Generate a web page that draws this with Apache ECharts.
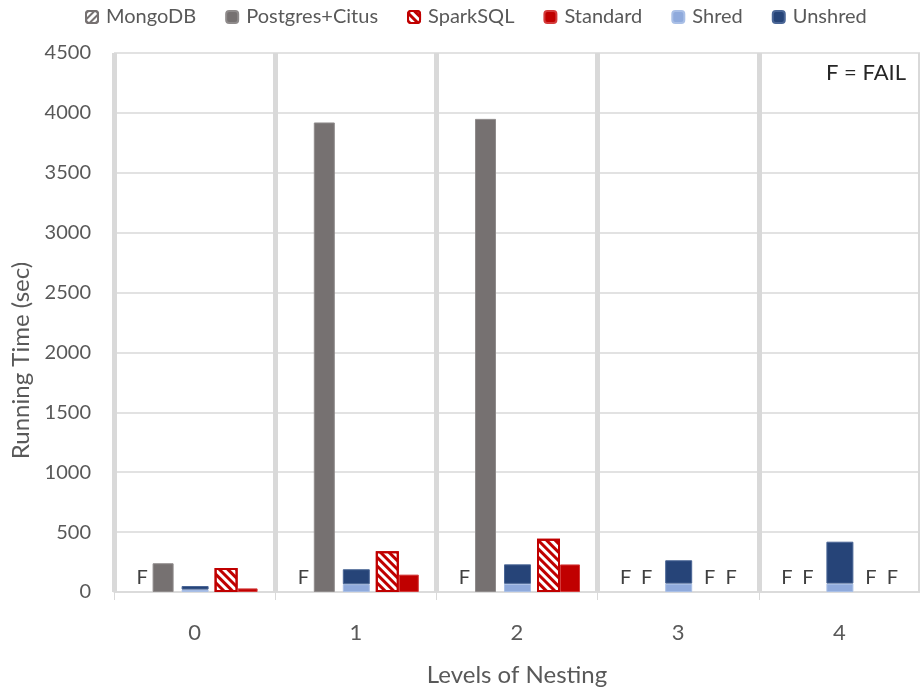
<!DOCTYPE html>
<html>
<head>
<meta charset="utf-8">
<script src="https://cdn.jsdelivr.net/npm/echarts@6/dist/echarts.min.js"></script>
<style>html,body{margin:0;padding:0;background:#fff}#c{width:920px;height:695px}</style>
</head>
<body>
<div id="c"></div>
<script>
// ---- data (null = FAIL) ----
var categories = ['0', '1', '2', '3', '4'];
var mongodb  = [null, null, null, null, null];
var postgres = [240, 3920, 3950, null, null];
var sparksql = [200, 340, 445, null, null];
var standard = [30, 145, 230, null, null];
var shred    = [20, 65, 68, 70, 70];
var unshred  = [30, 125, 163, 195, 350];
var yTicks = {min: 0, max: 4500, interval: 500};

var FONT = 'Lato, "Liberation Sans", sans-serif';
var TXT = '#595959';

function withFail(arr) {
  return arr.map(function (v) {
    if (v === null) {
      return {value: 0,
        itemStyle: {color: 'transparent', borderWidth: 0, borderColor: 'transparent'},
        label: {show: true}};
    }
    return {value: v};
  });
}
var failLabel = {
  show: false, position: 'top', distance: 4,
  formatter: 'F', color: '#404040', fontSize: 20, fontFamily: FONT
};

var chart = echarts.init(document.getElementById('c'), null, {renderer: 'canvas'});
var option = {
  animation: false,
  backgroundColor: '#fff',
  textStyle: {fontFamily: FONT},
  legend: {
    data: ['MongoDB', 'Postgres+Citus', 'SparkSQL', 'Standard', 'Shred', 'Unshred'],
    top: 2, left: 80,
    itemWidth: 12, itemHeight: 12, itemGap: 29,
    textStyle: {color: TXT, fontSize: 20, fontFamily: FONT, padding: [0, 0, 0, 3]}
  },
  graphic: [{
    type: 'text', right: 14, top: 62,
    style: {text: 'F = FAIL', fill: '#262626', font: '22px ' + FONT}
  }],
  grid: {left: 114, right: -7, top: 53, bottom: 103, containLabel: false},
  xAxis: {
    type: 'category', data: categories,
    axisLine: {lineStyle: {color: '#d9d9d9', width: 1.5}},
    axisTick: {show: true, length: 8, lineStyle: {color: '#d9d9d9', width: 1}},
    splitLine: {show: true, lineStyle: {color: '#d9d9d9', width: 5}},
    axisLabel: {color: TXT, fontSize: 22, margin: 30, fontFamily: FONT},
    name: 'Levels of Nesting', nameLocation: 'middle', nameGap: 71,
    nameTextStyle: {color: TXT, fontSize: 24, fontFamily: FONT}
  },
  yAxis: {
    type: 'value', min: yTicks.min, max: yTicks.max, interval: yTicks.interval,
    axisLine: {show: false}, axisTick: {show: false},
    splitLine: {lineStyle: {color: '#d9d9d9', width: 1.5}},
    axisLabel: {color: TXT, fontSize: 20, margin: 23, fontFamily: FONT,
      formatter: function (v) { return String(v); }},
    name: 'Running Time (sec)', nameLocation: 'middle', nameGap: 80,
    nameTextStyle: {color: TXT, fontSize: 24, fontFamily: FONT, padding: [0, 76, 0, 0]}
  },
  series: [
    {name: 'MongoDB', type: 'bar', barWidth: 21, barGap: '0%',
     itemStyle: {color: '#fff', borderColor: '#767171', borderWidth: 1,
       decal: {color: '#767171', symbol: 'rect', dashArrayX: [1, 0], dashArrayY: [2, 3], rotation: -Math.PI / 4}},
     label: failLabel, data: withFail(mongodb)},
    {name: 'Postgres+Citus', type: 'bar', barWidth: 21, barGap: '0%',
     itemStyle: {color: '#767171', borderColor: '#8f8b8b', borderWidth: 1},
     label: failLabel, data: withFail(postgres)},
    {name: 'sp1', type: 'bar', barWidth: 8, barGap: '0%', data: [], silent: true},
    {name: 'Shred', type: 'bar', stack: 'su', barWidth: 27, barGap: '0%',
     itemStyle: {color: '#8FAADC', borderColor: '#a9bfe6', borderWidth: 1},
     data: shred},
    {name: 'Unshred', type: 'bar', stack: 'su', barWidth: 27, barGap: '0%',
     itemStyle: {color: '#264478', borderColor: '#4a6696', borderWidth: 1},
     data: unshred},
    {name: 'sp2', type: 'bar', barWidth: 6, barGap: '0%', data: [], silent: true},
    {name: 'SparkSQL', type: 'bar', barWidth: 23, barGap: '0%',
     itemStyle: {color: '#fff', borderColor: '#C00000', borderWidth: 2,
       decal: {color: '#C00000', symbol: 'rect', dashArrayX: [1, 0], dashArrayY: [3, 3], rotation: Math.PI / 4}},
     label: failLabel, data: withFail(sparksql)},
    {name: 'Standard', type: 'bar', barWidth: 20, barGap: '0%',
     itemStyle: {color: '#C00000', borderColor: '#d43a3a', borderWidth: 1},
     label: failLabel, data: withFail(standard)}
  ]
};
chart.setOption(option);
</script>
</body>
</html>
